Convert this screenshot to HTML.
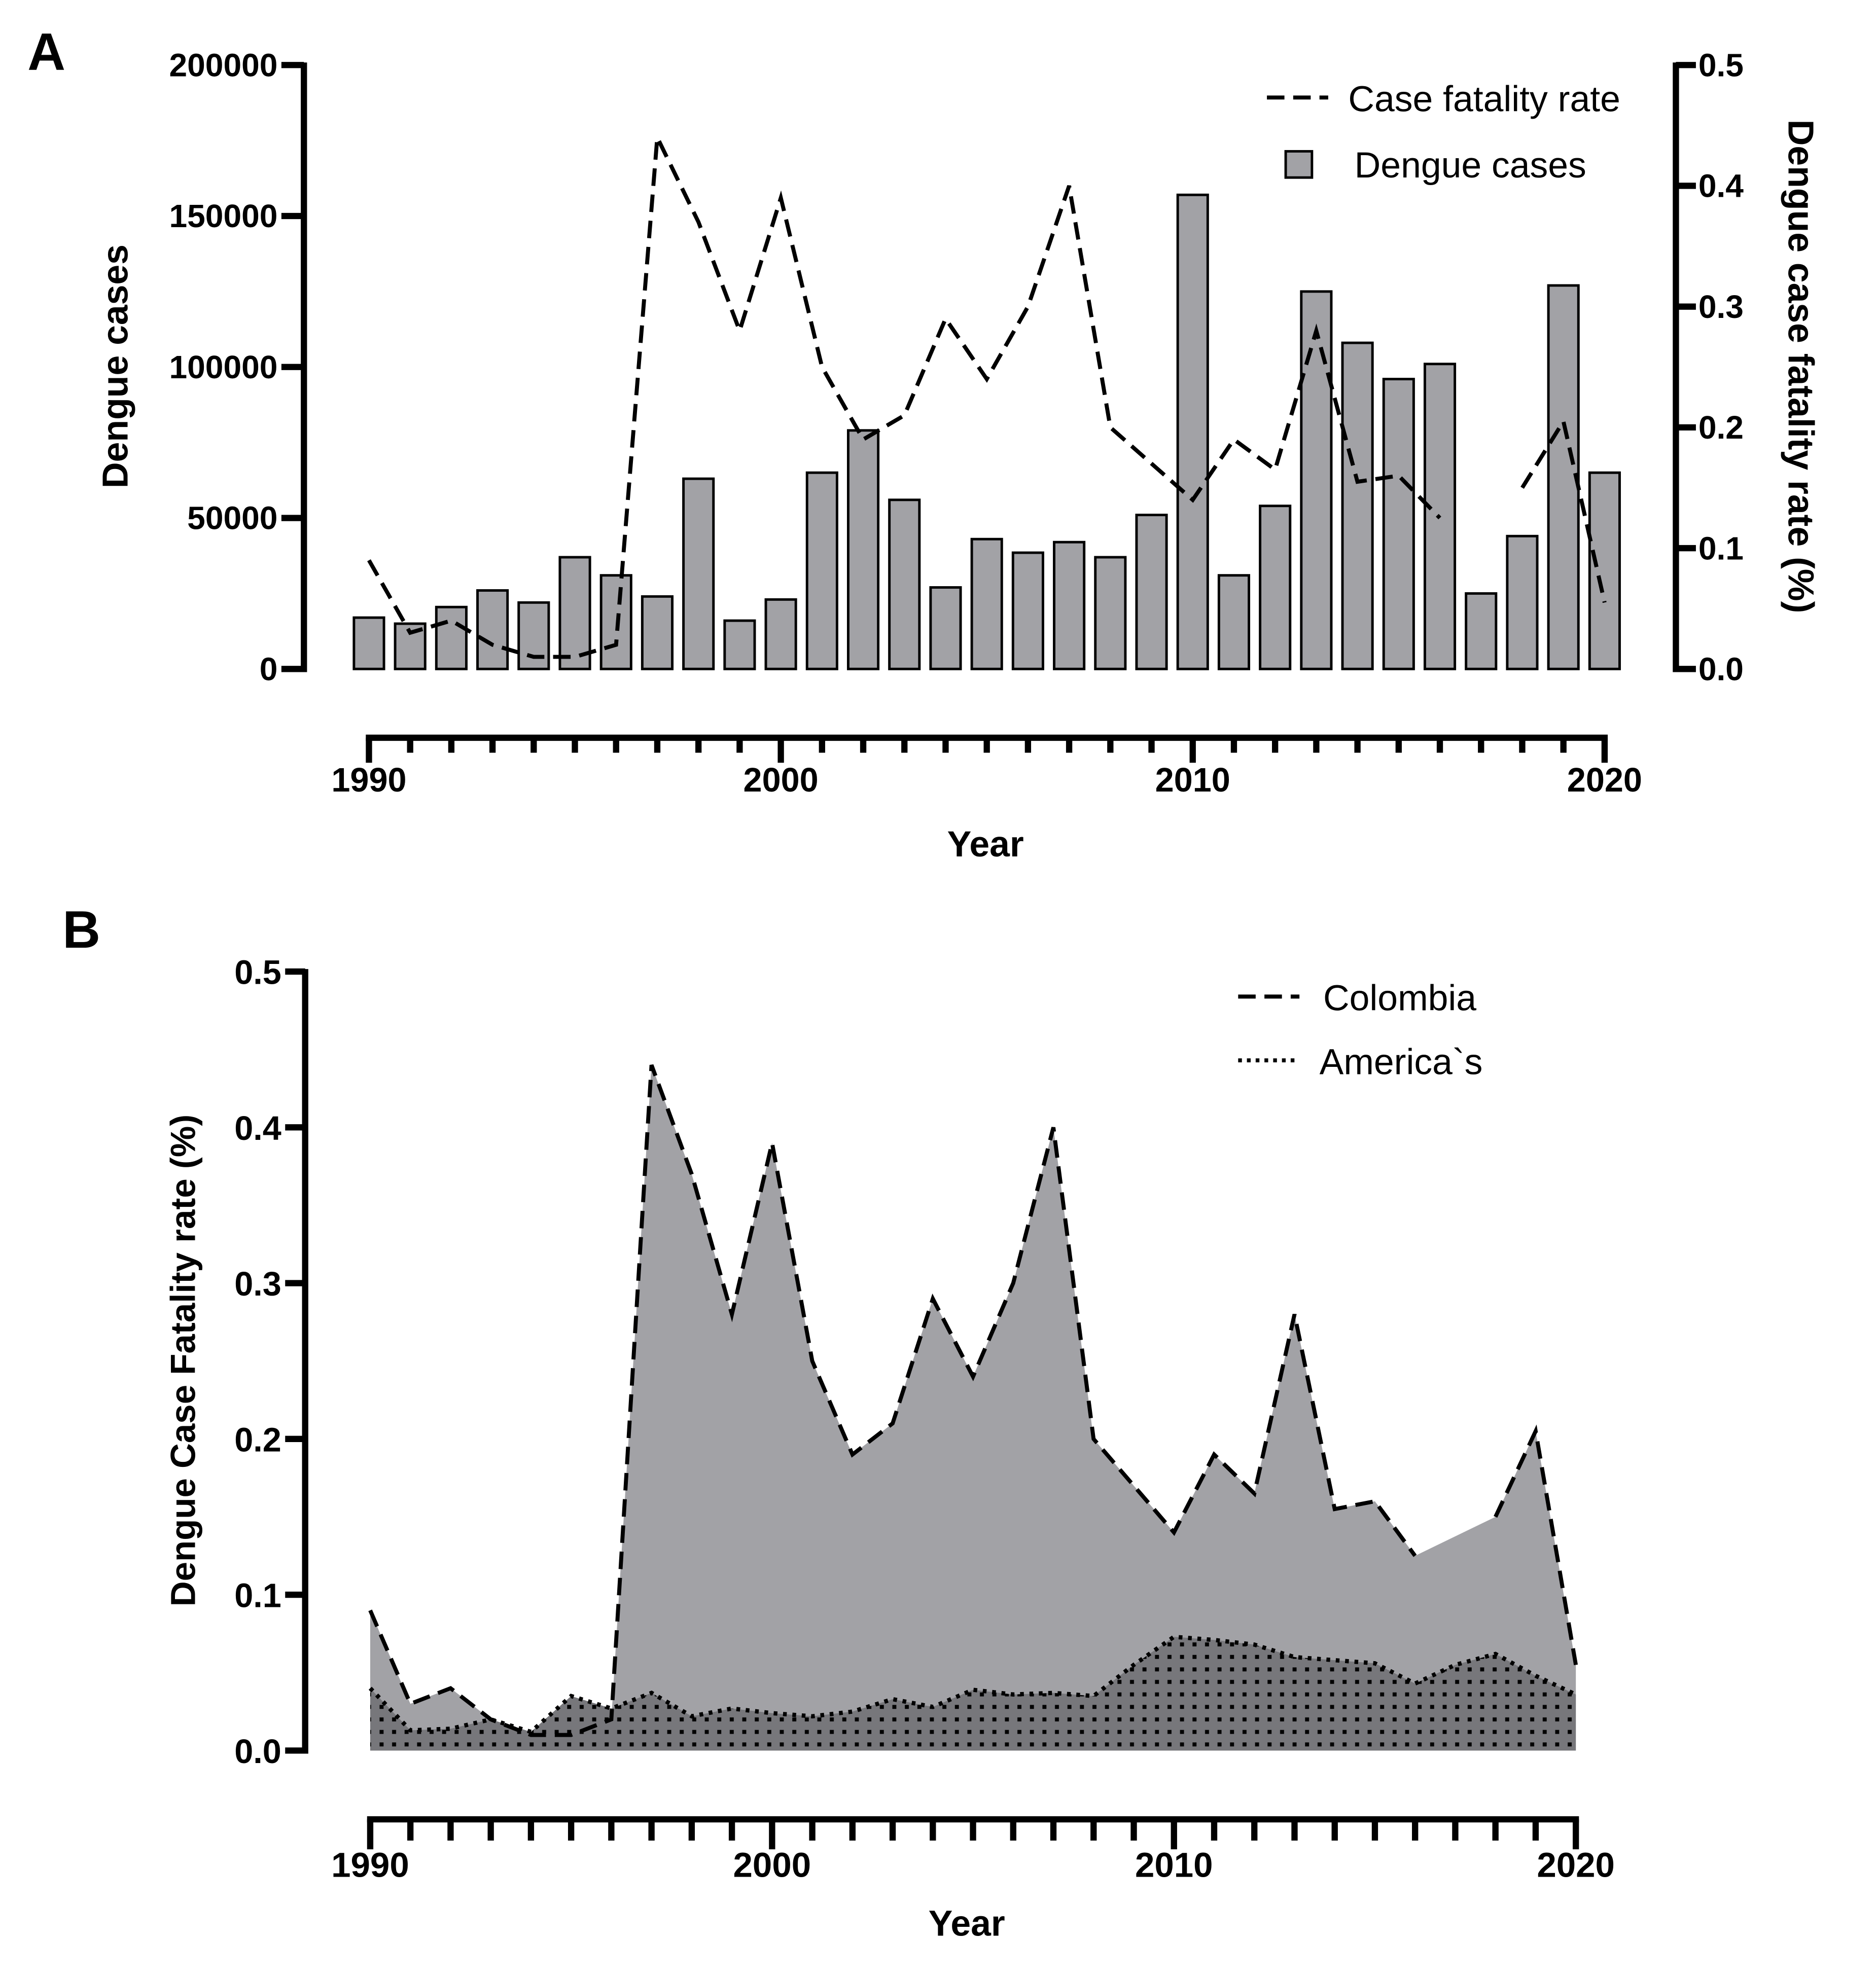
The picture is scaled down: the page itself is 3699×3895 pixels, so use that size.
<!DOCTYPE html>
<html><head><meta charset="utf-8"><style>
html,body{margin:0;padding:0;background:#fff}
svg{display:block}
text{font-family:"Liberation Sans",Arial,sans-serif;fill:#000}
</style></head><body>
<svg id="fig" width="3699" height="3895" viewBox="0 0 1500 1579.5" preserveAspectRatio="none" xmlns="http://www.w3.org/2000/svg">
<defs>
<pattern id="dots" width="10" height="10" patternUnits="userSpaceOnUse">
<rect width="10" height="10" fill="#77777b"/>
<rect x="3.5" y="3.5" width="3.2" height="3.2" fill="#000"/>
</pattern>
</defs>
<g id="panelA"></g>
<g id="panelB"></g>
</svg>
<script>
const years = [1990,1991,1992,1993,1994,1995,1996,1997,1998,1999,2000,2001,2002,2003,2004,2005,2006,2007,2008,2009,2010,2011,2012,2013,2014,2015,2016,2017,2018,2019,2020];
const dengueCases = [17000,15000,20500,26000,22000,37000,31000,24000,63000,16000,23000,65000,79000,56000,27000,43000,38500,42000,37000,51000,157000,31000,54000,125000,108000,96000,101000,25000,44000,127000,65000];
const colombiaCFR = [0.09,0.03,0.04,0.02,0.01,0.01,0.02,0.44,0.37,0.28,0.39,0.25,0.19,0.21,0.29,0.24,0.30,0.40,0.20,0.17,0.14,0.19,0.165,0.28,0.155,0.16,0.125,null,0.15,0.205,0.055];
const americasCFR = [0.04,0.013,0.014,0.02,0.012,0.035,0.027,0.037,0.022,0.027,0.024,0.022,0.025,0.033,0.028,0.039,0.036,0.037,0.035,0.055,0.073,0.071,0.068,0.06,0.058,0.056,0.043,0.055,0.062,0.048,0.036];
const casesTicks = [0,50000,100000,150000,200000];
const cfrTicksA = ["0.0","0.1","0.2","0.3","0.4","0.5"];
const cfrTicksB = ["0.0","0.1","0.2","0.3","0.4","0.5"];
const yearLabels = [1990,2000,2010,2020];

const NS="http://www.w3.org/2000/svg";
function el(tag, attrs, parent, txt){const e=document.createElementNS(NS,tag);for(const k in attrs)e.setAttribute(k,attrs[k]);if(txt!==undefined)e.textContent=txt;parent.appendChild(e);return e;}
const DASH='14 7', LW=3.2;

// ---------- Panel A ----------
const A=document.getElementById('panelA');
const axA={x0:295,x1:1283,y0:535,y1:52,lx:243,rx:1340,xy:590};
const xA=y=>axA.x0+(y-1990)*(axA.x1-axA.x0)/30;
const yCases=v=>axA.y0-(v/200000)*(axA.y0-axA.y1);
const yCfrA=v=>axA.y0-(v/0.5)*(axA.y0-axA.y1);

let t=el('text',{x:22,y:56,'font-size':42,'font-weight':'bold'},A,'A');



dengueCases.forEach((v,i)=>{
  const cx=xA(years[i]);
  const r=el('rect',{x:cx-12,y:yCases(v),width:24,height:axA.y0-yCases(v),fill:'#a2a2a6',stroke:'#000','stroke-width':2},A);
  
  
});
function segs(arr,fx,fy){const out=[];let cur=[];arr.forEach((v,i)=>{if(v===null){if(cur.length)out.push(cur);cur=[];}else cur.push([fx(years[i]),fy(v)]);});if(cur.length)out.push(cur);return out;}
segs(colombiaCFR,xA,yCfrA).forEach((s,k)=>{
  const p=el('polyline',{points:s.map(q=>q.join(',')).join(' '),fill:'none',stroke:'#000','stroke-width':LW,'stroke-dasharray':DASH},A);
  
  
});
let ax=el('line',{x1:axA.lx,y1:axA.y1-2,x2:axA.lx,y2:axA.y0+2.5,stroke:'#000','stroke-width':5},A);


casesTicks.forEach(v=>{
  el('line',{x1:axA.lx-18,y1:yCases(v),x2:axA.lx,y2:yCases(v),stroke:'#000','stroke-width':5},A);
  const tl=el('text',{x:axA.lx-21,y:yCases(v)+9,'font-size':26,'font-weight':'bold','text-anchor':'end'},A,String(v));
  
  
});
ax=el('line',{x1:axA.rx,y1:axA.y1-2,x2:axA.rx,y2:axA.y0+2.5,stroke:'#000','stroke-width':5},A);


cfrTicksA.forEach(s=>{
  const v=parseFloat(s);
  el('line',{x1:axA.rx,y1:yCfrA(v),x2:axA.rx+16,y2:yCfrA(v),stroke:'#000','stroke-width':5},A);
  const tl=el('text',{x:axA.rx+18,y:yCfrA(v)+9,'font-size':26,'font-weight':'bold'},A,s);
  
  
});
ax=el('line',{x1:axA.x0-2.5,y1:axA.xy,x2:axA.x1+2.5,y2:axA.xy,stroke:'#000','stroke-width':5},A);


years.forEach(y=>{
  const major=y%10===0;
  el('line',{x1:xA(y),y1:axA.xy,x2:xA(y),y2:axA.xy+(major?20:12),stroke:'#000','stroke-width':5},A);
});
yearLabels.forEach(y=>{
  const tl=el('text',{x:xA(y),y:axA.xy+43,'font-size':27,'font-weight':'bold','text-anchor':'middle'},A,String(y));
  
  
});
t=el('text',{x:788,y:685,'font-size':29,'font-weight':'bold','text-anchor':'middle'},A,'Year');


t=el('text',{x:0,y:0,'font-size':29,'font-weight':'bold','text-anchor':'middle',transform:'translate(102,293) rotate(-90)'},A,'Dengue cases');


t=el('text',{x:0,y:0,'font-size':29,'font-weight':'bold','text-anchor':'middle',transform:'translate(1430,293) rotate(90)'},A,'Dengue case fatality rate (%)');


let lg=el('line',{x1:1013,y1:78,x2:1062,y2:78,stroke:'#000','stroke-width':LW,'stroke-dasharray':DASH},A);


t=el('text',{x:1078,y:89,'font-size':29},A,'Case fatality rate');


lg=el('rect',{x:1028,y:121,width:21,height:21,fill:'#a2a2a6',stroke:'#000','stroke-width':2},A);


t=el('text',{x:1083,y:142,'font-size':29},A,'Dengue cases');



// ---------- Panel B ----------
const B=document.getElementById('panelB');
const axB={x0:296,x1:1260,y0:1400,y1:777,lx:244,xy:1455};
const xB=y=>axB.x0+(y-1990)*(axB.x1-axB.x0)/30;
const yB=v=>axB.y0-(v/0.5)*(axB.y0-axB.y1);

t=el('text',{x:50,y:758,'font-size':42,'font-weight':'bold'},B,'B');



let pts=[];colombiaCFR.forEach((v,i)=>{if(v!==null)pts.push([xB(years[i]),yB(v)]);});
let area=el('polygon',{points:[[xB(1990),yB(0)],...pts,[xB(2020),yB(0)]].map(q=>q.join(',')).join(' '),fill:'#a2a2a6'},B);


pts=americasCFR.map((v,i)=>[xB(years[i]),yB(v)]);
area=el('polygon',{points:[[xB(1990),yB(0)],...pts,[xB(2020),yB(0)]].map(q=>q.join(',')).join(' '),fill:'url(#dots)'},B);


let ln=el('polyline',{points:pts.map(q=>q.join(',')).join(' '),fill:'none',stroke:'#000','stroke-width':3.4,'stroke-dasharray':'3 4.5'},B);


segs(colombiaCFR,xB,yB).forEach((s,k)=>{
  const p=el('polyline',{points:s.map(q=>q.join(',')).join(' '),fill:'none',stroke:'#000','stroke-width':LW,'stroke-dasharray':DASH},B);
  
  
});
ax=el('line',{x1:axB.lx,y1:axB.y1-2,x2:axB.lx,y2:axB.y0+2.5,stroke:'#000','stroke-width':5},B);


cfrTicksB.forEach(s=>{
  const v=parseFloat(s);
  el('line',{x1:axB.lx-16,y1:yB(v),x2:axB.lx,y2:yB(v),stroke:'#000','stroke-width':5},B);
  const tl=el('text',{x:axB.lx-19,y:yB(v)+10,'font-size':27,'font-weight':'bold','text-anchor':'end'},B,s);
  
  
});
ax=el('line',{x1:axB.x0-2.5,y1:axB.xy,x2:axB.x1+2.5,y2:axB.xy,stroke:'#000','stroke-width':5},B);


years.forEach(y=>{
  const major=y%10===0;
  el('line',{x1:xB(y),y1:axB.xy,x2:xB(y),y2:axB.xy+(major?24:17),stroke:'#000','stroke-width':5},B);
});
yearLabels.forEach(y=>{
  const tl=el('text',{x:xB(y),y:axB.xy+46,'font-size':28,'font-weight':'bold','text-anchor':'middle'},B,String(y));
  
  
});
t=el('text',{x:773,y:1548,'font-size':29,'font-weight':'bold','text-anchor':'middle'},B,'Year');


t=el('text',{x:0,y:0,'font-size':28,'font-weight':'bold','text-anchor':'middle',transform:'translate(156,1088) rotate(-90)'},B,'Dengue Case Fatality rate (%)');


lg=el('line',{x1:990,y1:797,x2:1039,y2:797,stroke:'#000','stroke-width':LW,'stroke-dasharray':DASH},B);


t=el('text',{x:1058,y:808,'font-size':29},B,'Colombia');


lg=el('line',{x1:990,y1:848,x2:1037,y2:848,stroke:'#000','stroke-width':3.2,'stroke-dasharray':'3 4'},B);


t=el('text',{x:1055,y:859,'font-size':29},B,'America`s');


</script>
</body></html>
